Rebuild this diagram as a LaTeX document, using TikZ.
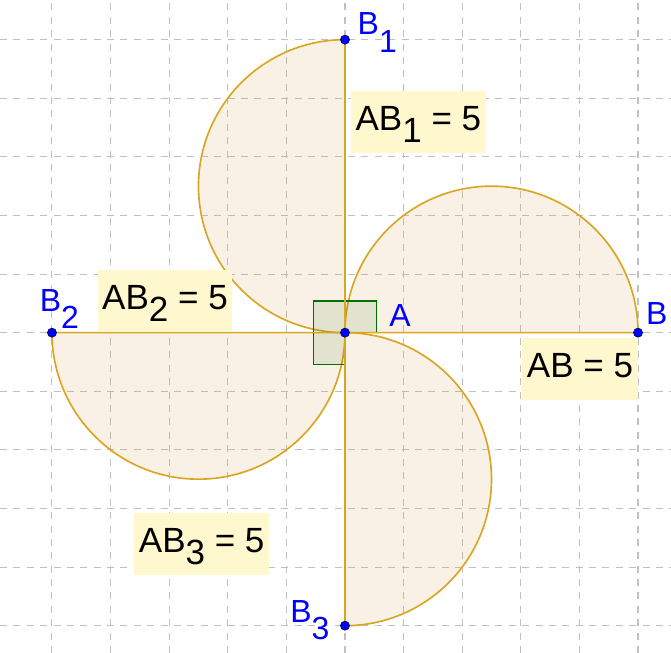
\documentclass[tikz,border=0pt]{standalone}
\usepackage{fontspec}
\setmainfont{Liberation Sans}
\definecolor{gridgray}{RGB}{192,192,192}
\definecolor{gold}{RGB}{218,165,32}
\definecolor{semifill}{RGB}{220,150,60}
\definecolor{angfill}{RGB}{0,100,0}
\definecolor{angline}{RGB}{0,110,0}
\definecolor{lblfill}{RGB}{255,248,206}
\definecolor{ptblue}{RGB}{0,0,255}
\newcommand\lsub[2]{\raisebox{-#1}{#2}}
\tikzset{
  gridline/.style={draw=gridgray, line width=0.5pt, dash pattern=on 3.4pt off 3.1pt},
  semi/.style={draw=gold, line width=0.8pt, fill=semifill, fill opacity=0.13},
  seg/.style={draw=gold, line width=0.8pt},
  rightang/.style={draw=angline, line width=0.6pt, fill=angfill, fill opacity=0.1},
  pt/.style={circle, fill=ptblue, draw=black!70!blue, line width=0.3pt, inner sep=0pt, minimum size=4.4pt},
  ptlabel/.style={text=ptblue, inner sep=0pt, anchor=base west, font=\fontsize{15.5}{18}\selectfont},
  labelbox/.style={fill=lblfill, inner xsep=2.2pt, inner ysep=0pt, text height=19.2pt, text depth=10.6pt, anchor=base west, font=\fontsize{17}{20}\selectfont}
}
\begin{document}
\begin{tikzpicture}[x=1cm,y=1cm]
\useasboundingbox (-5.887,-5.466) rectangle (5.563,5.677);
% grid
\foreach \x in {-5,...,5} \draw[gridline] (\x,-5.466) -- (\x,5.677);
\foreach \y in {-5,...,5} \draw[gridline] (-5.887,\y) -- (5.563,\y);
% points
\coordinate (A) at (0,0);
\coordinate (B) at (5,0);
\coordinate (B1) at (0,5);
\coordinate (B2) at (-5,0);
\coordinate (B3) at (0,-5);
% semicircles
\path[semi] (B) arc[start angle=0, end angle=180, radius=2.5] -- cycle;
\path[semi] (B1) arc[start angle=90, end angle=270, radius=2.5] -- cycle;
\path[semi] (B2) arc[start angle=180, end angle=360, radius=2.5] -- cycle;
\path[semi] (B3) arc[start angle=270, end angle=450, radius=2.5] -- cycle;
% right angle marks
\path[rightang] (A) rectangle (0.54,0.54);
\path[rightang] (A) rectangle (-0.54,0.54);
\path[rightang] (A) rectangle (-0.54,-0.54);
% segments
\draw[seg] (A) -- (B);
\draw[seg] (A) -- (B1);
\draw[seg] (A) -- (B2);
\draw[seg] (A) -- (B3);
% dots
\node[pt] (dA) at (A) {};
\node[pt] (dB) at (B) {};
\node[pt] (dB1) at (B1) {};
\node[pt] (dB2) at (B2) {};
\node[pt] (dB3) at (B3) {};
% point labels
\node[ptlabel] (tA) at (0.75,0.097) {A};
\node[ptlabel] (tB) at (5.13,0.148) {B};
\node[ptlabel] (tB1) at (0.21,5.08) {B\lsub{8.3pt}{1}};
\node[ptlabel] (tB2) at (-5.215,0.358) {B\lsub{8.3pt}{2}};
\node[ptlabel] (tB3) at (-0.94,-4.954) {B\lsub{7.8pt}{3}};
% length labels
\node[labelbox] (lAB) at (3.020,-0.773) {AB = 5};
\node[labelbox] (lAB1) at (0.097,3.442) {AB\lsub{5.8pt}{1} = 5};
\node[labelbox] (lAB2) at (-4.227,0.387) {AB\lsub{5.8pt}{2} = 5};
\node[labelbox] (lAB3) at (-3.601,-3.759) {AB\lsub{5.8pt}{3} = 5};
\end{tikzpicture}
\end{document}
